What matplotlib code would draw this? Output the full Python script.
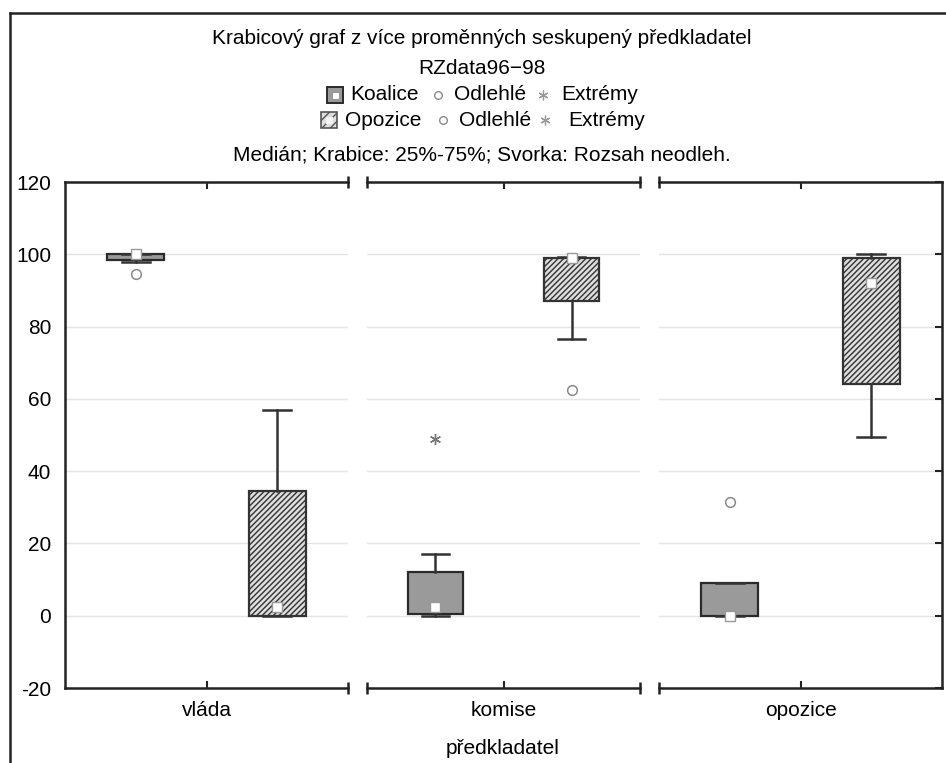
import numpy as np
import matplotlib
matplotlib.use('Agg')
import matplotlib.pyplot as plt
from matplotlib.patches import Rectangle
from matplotlib.lines import Line2D

plt.rcParams['font.family'] = ['Liberation Sans', 'DejaVu Sans']
plt.rcParams['hatch.linewidth'] = 1.0
plt.rcParams['axes.unicode_minus'] = False

# data
groups = ['vláda', 'komise', 'opozice']
series = ['Koalice', 'Opozice']

# Koalice
koal_med = [100.0, 2.5, 0.0]
koal_q1 = [98.5, 0.5, 0.0]
koal_q3 = [100.0, 12.0, 9.0]
koal_lo = [98.0, 0.0, 0.0]
koal_hi = [100.0, 17.0, 9.0]
koal_out = [[94.5], [], [31.5]]
koal_ext = [[], [49.0], []]

# Opozice
opoz_med = [2.5, 99.0, 92.0]
opoz_q1 = [0.0, 87.0, 64.0]
opoz_q3 = [34.5, 99.0, 99.0]
opoz_lo = [0.0, 76.5, 49.5]
opoz_hi = [57.0, 99.3, 100.0]
opoz_out = [[], [62.5], []]
opoz_ext = [[], [], []]

yticks = [-20, 0, 20, 40, 60, 80, 100, 120]

W, H = 946, 763
DARK = '#222222'
fig = plt.figure(figsize=(W / 100, H / 100), dpi=100)

# panel positions in pixels (left, width)
panels = [(65, 283), (367, 273), (659, 283)]
top, bot = 182, 688

def stats(med, q1, q3, lo, hi, out):
    return dict(med=med, q1=q1, q3=q3, whislo=lo, whishi=hi, mean=med, fliers=out)

for i, (l, w) in enumerate(panels):
    ax = fig.add_axes([l / W, 1 - bot / H, w / W, (bot - top) / H])
    ax.set_xlim(-0.5, 0.5)
    ax.set_ylim(-20, 120)
    ax.set_yticks(yticks)
    ax.grid(axis='y', color='#e4e4e4', lw=1)
    ax.set_axisbelow(True)

    common = dict(widths=0.2, capwidths=0.1, patch_artist=True,
                  showmeans=True, manage_ticks=False,
                  whiskerprops=dict(color='#333333', lw=1.8),
                  capprops=dict(color='#333333', lw=1.8),
                  medianprops=dict(lw=0),
                  meanprops=dict(marker='s', markerfacecolor='white', markeredgecolor='#999999',
                                 markersize=6.5, markeredgewidth=1),
                  flierprops=dict(marker='o', markerfacecolor='none', markeredgecolor='#8a8a8a',
                                  markersize=7, markeredgewidth=1.1))
    bk = ax.bxp([stats(koal_med[i], koal_q1[i], koal_q3[i], koal_lo[i], koal_hi[i], koal_out[i])],
                positions=[-0.25],
                boxprops=dict(facecolor='#9a9a9a', edgecolor='#2a2a2a', lw=1.6), **common)
    bo = ax.bxp([stats(opoz_med[i], opoz_q1[i], opoz_q3[i], opoz_lo[i], opoz_hi[i], opoz_out[i])],
                positions=[0.25],
                boxprops=dict(facecolor='#dedede', edgecolor='#333333', lw=1.6, hatch='//////'),
                **common)
    for m in bk['means'] + bo['means']:
        m.set_zorder(5)
    if koal_ext[i]:
        ax.plot([-0.25] * len(koal_ext[i]), koal_ext[i], ls='none', marker=(6, 2, 0),
                ms=8, mec='#777777', mew=1)
    if opoz_ext[i]:
        ax.plot([0.25] * len(opoz_ext[i]), opoz_ext[i], ls='none', marker=(6, 2, 0),
                ms=8, mec='#777777', mew=1)

    ax.set_xticks([0])
    ax.set_xticklabels([groups[i]], fontsize=15)
    ax.tick_params(axis='x', top=True, bottom=True, direction='in', length=5, width=1.5,
                   color=DARK, pad=9)
    for s in ax.spines.values():
        s.set_linewidth(1.8)
        s.set_color(DARK)
    if i == 0:
        ax.tick_params(axis='y', left=True, right=False, length=0, labelsize=15, pad=10)
    else:
        ax.spines['left'].set_visible(False)
        ax.tick_params(axis='y', left=False, labelleft=False)
    if i == 2:
        ax.tick_params(axis='y', right=True, direction='in', length=5, width=1.5, color=DARK)
    else:
        ax.spines['right'].set_visible(False)
    # end caps of the broken top and bottom axis lines
    ends = {0: [1], 1: [0, 1], 2: [0]}[i]
    for xe in ends:
        ax.plot([xe, xe], [0, 1], ls='none', marker='|', ms=9, mew=1.8, color=DARK,
                transform=ax.transAxes, clip_on=False)

# overlay in pixel coordinates for frame and legend
ov = fig.add_axes([0, 0, 1, 1])
ov.set_xlim(0, W)
ov.set_ylim(H, 0)
ov.axis('off')
ov.add_line(Line2D([10, 10], [13, H + 5], color=DARK, lw=1.8))
ov.add_line(Line2D([10, W + 5], [13, 13], color=DARK, lw=1.8))

fs = 15
cx = 482
ov.text(cx, 39, 'Krabicový graf z více proměnných seskupený předkladatel', ha='center', va='center', fontsize=fs)
ov.text(cx, 68, 'RZdata96\u221298', ha='center', va='center', fontsize=fs)
ov.text(cx, 155, 'Medián; Krabice: 25%-75%; Svorka: Rozsah neodleh.', ha='center', va='center', fontsize=fs)

# legend row 1 (Koalice)
ov.add_patch(Rectangle((327, 87), 16, 16, facecolor='#9a9a9a', edgecolor='#2a2a2a', lw=1.4))
ov.add_patch(Rectangle((331.5, 91.5), 7, 7, facecolor='white', edgecolor='#999999', lw=0.8))
ov.text(350, 95, 'Koalice', ha='left', va='center', fontsize=fs)
ov.plot([438], [95], marker='o', ms=5.5, mfc='none', mec='#8a8a8a', mew=1)
ov.text(454, 95, 'Odlehlé', ha='left', va='center', fontsize=fs)
ov.plot([543], [95], marker=(6, 2, 0), ms=7, mec='#999999', mew=0.9)
ov.text(561, 95, 'Extrémy', ha='left', va='center', fontsize=fs)

# legend row 2 (Opozice)
ov.add_patch(Rectangle((321, 112), 16, 16, facecolor='#dedede', edgecolor='#555555', lw=1.2, hatch='////'))
ov.add_patch(Rectangle((325.5, 116.5), 7, 7, facecolor='#f4f4f4', edgecolor='none'))
ov.text(345, 120, 'Opozice', ha='left', va='center', fontsize=fs)
ov.plot([443], [120], marker='o', ms=5.5, mfc='none', mec='#8a8a8a', mew=1)
ov.text(459, 120, 'Odlehlé', ha='left', va='center', fontsize=fs)
ov.plot([545], [120], marker=(6, 2, 0), ms=7, mec='#999999', mew=0.9)
ov.text(568, 120, 'Extrémy', ha='left', va='center', fontsize=fs)

ov.text(503, 748, 'předkladatel', ha='center', va='center', fontsize=15)

plt.savefig('out.png', dpi=100)
